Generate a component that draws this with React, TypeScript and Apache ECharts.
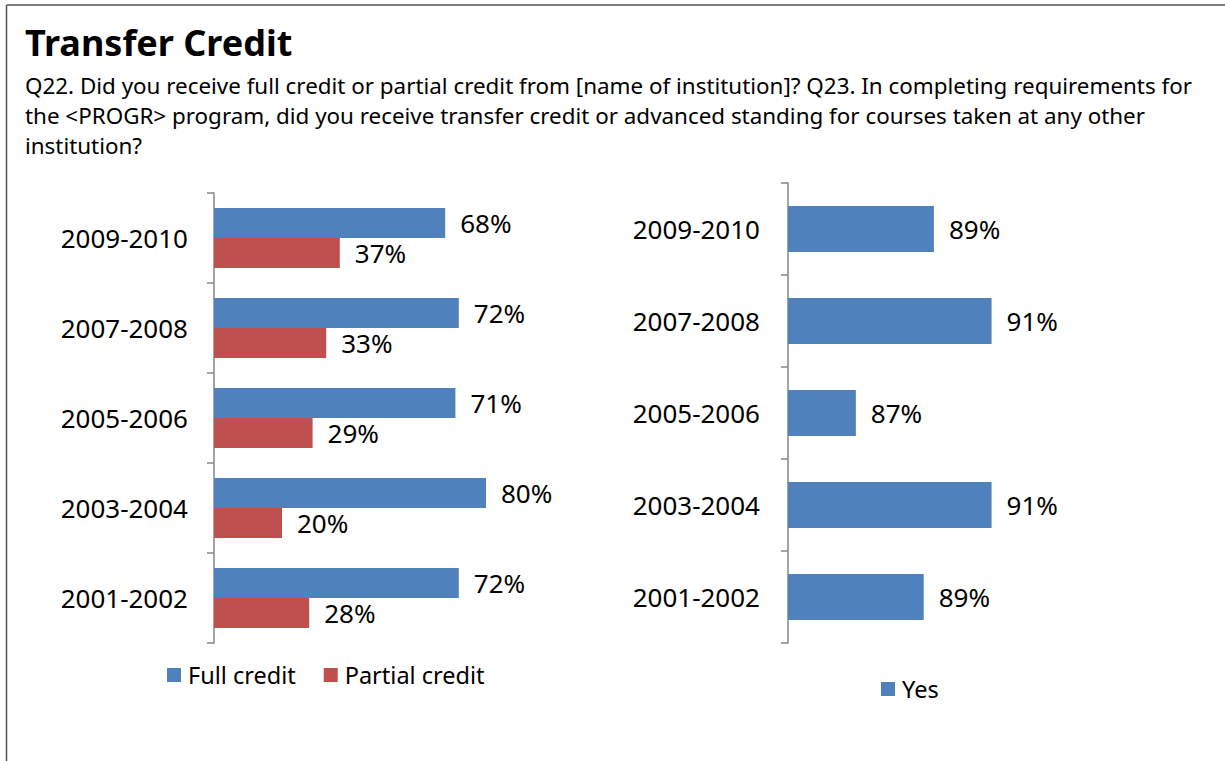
import React, { useEffect, useRef } from "react";
import * as echarts from "echarts";

const categories = ["2009-2010", "2007-2008", "2005-2006", "2003-2004", "2001-2002"];
const fullCredit = [0.68, 0.72, 0.71, 0.8, 0.72];
const partialCredit = [0.37, 0.33, 0.29, 0.2, 0.28];
const yesValues = [0.893, 0.91, 0.87, 0.91, 0.89];
const titleText = "Transfer Credit";
const subtitleLines = [
  "Q22. Did you receive full credit or partial credit from [name of institution]? Q23. In completing requirements for",
  "the <PROGR> program, did you receive transfer credit or advanced standing for courses taken at any other",
  "institution?",
];

const FONT = '"Noto Sans", "Open Sans", sans-serif';
const BLUE = "#4F81BD";
const RED = "#C0504D";
const AXIS = "#868686";

const pct = (p: any) => Math.round(p.value * 100) + "%";

export default function App() {
  const ref = useRef<HTMLDivElement>(null);
  useEffect(() => {
    if (!ref.current) return;
    const chart = echarts.init(ref.current, null, { renderer: "svg" });
    const catAxis = (gridIndex: number, margin: number) => ({
      type: "category",
      gridIndex,
      data: categories,
      inverse: true,
      axisLine: { show: true, lineStyle: { color: AXIS, width: 1.5 } },
      axisTick: { show: true, length: 7, lineStyle: { color: AXIS, width: 1.5 } },
      axisLabel: { color: "#000", fontSize: 26, fontFamily: FONT, margin },
      splitLine: { show: false },
    });
    const labelStyle = {
      show: true,
      position: "right",
      distance: 15,
      formatter: pct,
      fontSize: 26,
      color: "#000",
      fontFamily: FONT,
    };
    chart.setOption({
      animation: false,
      textStyle: { fontFamily: FONT },
      graphic: [
        { type: "line", shape: { x1: 6.5, y1: 5, x2: 6.5, y2: 761 }, style: { stroke: "#555", lineWidth: 1.5 } },
        { type: "line", shape: { x1: 6.5, y1: 5, x2: 1225, y2: 5 }, style: { stroke: "#555", lineWidth: 1.5 } },
        {
          type: "text",
          x: 25,
          y: 42,
          style: { text: titleText, font: `bold 36px ${FONT}`, fill: "#000", textVerticalAlign: "middle" },
        },
        ...subtitleLines.map((t, i) => ({
          type: "text",
          x: 25,
          y: 85 + i * 30,
          style: { text: t, font: `22.4px ${FONT}`, fill: "#000", textVerticalAlign: "middle" },
        })),
      ],
      grid: [
        { left: 214, top: 193, width: 340, height: 450, containLabel: false },
        { left: 788, top: 183, width: 237.5, height: 460, containLabel: false },
      ],
      xAxis: [
        { type: "value", gridIndex: 0, min: 0, max: 1, show: false },
        { type: "value", gridIndex: 1, min: 0.85, max: 0.92, show: false },
      ],
      yAxis: [catAxis(0, 26), catAxis(1, 28)],
      legend: [
        {
          left: 167,
          top: 663,
          padding: 0,
          itemWidth: 14,
          itemHeight: 14,
          itemGap: 28,
          icon: "rect",
          data: ["Full credit", "Partial credit"],
          textStyle: { fontSize: 23.5, color: "#000", fontFamily: FONT, padding: [0, 0, 0, 2] },
        },
        {
          left: 881,
          top: 677,
          padding: 0,
          itemWidth: 14,
          itemHeight: 14,
          icon: "rect",
          data: ["Yes"],
          textStyle: { fontSize: 23.5, color: "#000", fontFamily: FONT, padding: [0, 0, 0, 2] },
        },
      ],
      series: [
        {
          name: "Full credit",
          type: "bar",
          xAxisIndex: 0,
          yAxisIndex: 0,
          data: fullCredit,
          barGap: "0%",
          barCategoryGap: "33.3%",
          itemStyle: { color: BLUE },
          label: labelStyle,
        },
        {
          name: "Partial credit",
          type: "bar",
          xAxisIndex: 0,
          yAxisIndex: 0,
          data: partialCredit,
          barGap: "0%",
          barCategoryGap: "33.3%",
          itemStyle: { color: RED },
          label: labelStyle,
        },
        {
          name: "Yes",
          type: "bar",
          xAxisIndex: 1,
          yAxisIndex: 1,
          data: yesValues,
          barCategoryGap: "50%",
          itemStyle: { color: BLUE },
          label: labelStyle,
        },
      ],
    });
    return () => chart.dispose();
  }, []);
  return (
    <div
      ref={ref}
      style={{ position: "fixed", left: 0, top: 0, width: 1225, height: 761, background: "#fff" }}
    />
  );
}
